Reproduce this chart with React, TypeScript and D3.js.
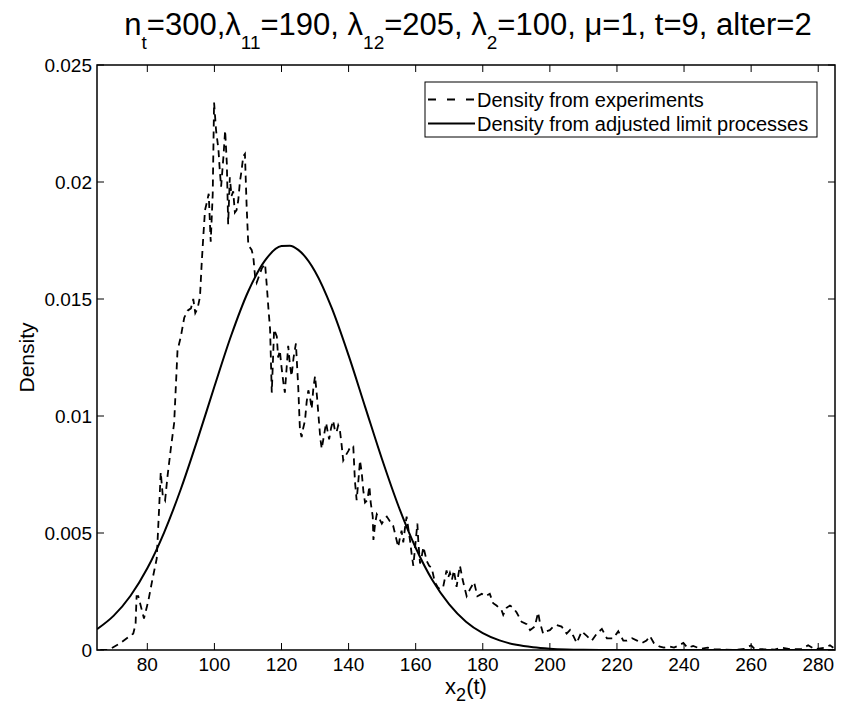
import React from "react";
import * as d3 from "d3";

// ---------- data ----------
const xTicks = [80, 100, 120, 140, 160, 180, 200, 220, 240, 260, 280];
const yTicks = [0, 0.005, 0.01, 0.015, 0.02, 0.025];
const yTickLabels = ["0", "0.005", "0.01", "0.015", "0.02", "0.025"];

// Density from experiments (dashed)
const expX = [
  66, 68, 69, 72, 75.8, 76.5, 76.8, 77.3, 79, 80.3, 81.5, 82.8, 83.5, 84, 84.6, 85.3, 86, 87, 88, 89,
  90, 91, 92, 93, 93.7, 94.3, 95, 95.7, 96.2, 96.7, 97.2, 97.7, 98.3, 98.9, 99.5, 99.9, 100.5, 101.2, 101.6, 102,
  102.7, 103.2, 103.7, 104.1, 104.6, 105.1, 105.6, 106.1, 106.6, 107.1, 107.6, 108.1, 108.6, 109.1, 109.6, 110.1, 110.6, 111.1, 111.6, 112.1,
  112.6, 113.1, 114.1, 115.1, 115.6, 116.1, 116.6, 117.1, 117.8, 118.6, 119.0, 119.5, 120, 120.5, 121, 121.5, 122, 122.5, 123, 123.6,
  124.3, 124.7, 125, 125.5, 126, 126.5, 127, 127.5, 128, 128.5, 129, 129.5, 130, 130.6, 131.2, 131.6, 132, 132.7, 133.3, 133.8,
  134.2, 134.8, 135.4, 135.9, 136.4, 136.9, 137.4, 137.9, 138.4, 139.1, 139.9, 140.6, 141.4, 141.9, 142.4, 142.9, 143.4, 143.9, 144.4, 144.9,
  145.6, 146.2, 146.6, 147.2, 147.4, 147.9, 148.4, 149.2, 149.9, 150.7, 151.4, 152.3, 153.3, 154.3, 154.8, 155.3, 155.8, 156.3, 156.8, 157.3,
  157.8, 158.3, 158.8, 159.3, 159.9, 160.5, 160.8, 161.3, 161.8, 162.3, 162.8, 163.3, 164, 164.8, 165.7, 166.5, 167.2, 168.2, 169.2, 169.7,
  170.2, 170.8, 171.4, 172.2, 172.7, 173.2, 174, 175.2, 176.2, 177.4, 178.4, 179.7, 180.9, 182.1, 183.1, 184.1, 185.6, 186.1, 187.1, 188.1,
  189.1, 190.1, 191.6, 193.1, 194.1, 195.5, 196.5, 197, 198, 199, 200, 201, 202, 203.5, 205, 206, 207, 208, 209.5, 211,
  212.5, 214, 215.5, 217, 218.9, 219.9, 220.4, 221.9, 223, 224.5, 226, 227.5, 228.8, 229.8, 231, 232.8, 234, 235.8, 237, 238.5,
  239.8, 241, 242.7, 245, 247, 249, 252, 255, 258, 260, 261, 264, 267, 269, 272, 275, 277, 279, 282, 283.5,
  284.5,
];
const expY = [
  0, 0, 0.00005, 0.0003, 0.0007, 0.0011, 0.0023, 0.0023, 0.00135, 0.0021, 0.003, 0.0039, 0.006, 0.0076, 0.0066, 0.0064, 0.0074, 0.0086, 0.0097, 0.0128,
  0.0134, 0.0142, 0.0145, 0.0146, 0.015, 0.0144, 0.0146, 0.0151, 0.0165, 0.0177, 0.0188, 0.0191, 0.0195, 0.01745, 0.0195, 0.0234, 0.0222, 0.0214, 0.0205, 0.0198,
  0.0211, 0.0222, 0.0208, 0.0182, 0.0202, 0.0194, 0.0196, 0.0187, 0.0188, 0.0192, 0.02, 0.0205, 0.0211, 0.0212, 0.019, 0.0173, 0.0172, 0.0171, 0.0168, 0.016,
  0.0157, 0.0159, 0.0163, 0.0165, 0.0156, 0.0146, 0.0137, 0.011, 0.0137, 0.0134, 0.0125, 0.0128, 0.0121, 0.0115, 0.011, 0.012, 0.013, 0.0122, 0.0117, 0.0125,
  0.0131, 0.012, 0.0112, 0.0094, 0.0091, 0.0095, 0.0098, 0.0106, 0.0111, 0.0108, 0.0103, 0.0112, 0.0117, 0.0108, 0.0097, 0.009, 0.0086, 0.0092, 0.0097, 0.0093,
  0.009, 0.0095, 0.0098, 0.0094, 0.0093, 0.0096, 0.0094, 0.0088, 0.0081, 0.0083, 0.0085, 0.0087, 0.0087, 0.0072, 0.0064, 0.0072, 0.0081, 0.0076, 0.0068, 0.0063,
  0.0064, 0.007, 0.0063, 0.0057, 0.0047, 0.0054, 0.0058, 0.0056, 0.0054, 0.0056, 0.0057, 0.0055, 0.0053, 0.0047, 0.0044, 0.0048, 0.0051, 0.0046, 0.0052, 0.0057,
  0.0052, 0.0047, 0.0041, 0.0036, 0.0045, 0.0054, 0.0046, 0.0037, 0.004, 0.0044, 0.0041, 0.0038, 0.0036, 0.0035, 0.0029, 0.0027, 0.0026, 0.0027, 0.0034, 0.0031,
  0.0033, 0.003, 0.0034, 0.0027, 0.0032, 0.0036, 0.003, 0.0023, 0.0026, 0.0029, 0.0023, 0.0024, 0.0023, 0.0024, 0.002, 0.0019, 0.0017, 0.0015, 0.0018, 0.0019,
  0.0018, 0.0016, 0.0012, 0.0011, 0.00085, 0.001, 0.0016, 0.0012, 0.0007, 0.0008, 0.00085, 0.001, 0.00107, 0.001, 0.0007, 0.00085, 0.0006, 0.0003, 0.0008, 0.0006,
  0.0004, 0.0007, 0.0009, 0.0005, 0.0005, 0.0007, 0.0008, 0.0004, 0.0004, 0.0005, 0.0004, 0.0003, 0.0004, 0.0006, 0.0003, 0.00014, 0.0001, 0.00015, 0.0001, 0.0002,
  0.0003, 0.0001, 0.00017, 0.00005, 0.0001, 0.00003, 0.00002, 0, 0.00005, 0.0002, 0.00005, 0.00003, 0.00002, 0.0001, 0.00003, 0.00005, 0.0002, 0.00003, 0.0001, 0.0002,
  0.0001,
];

// Density from adjusted limit processes (solid)
const limX = [65, 70, 75, 80, 85, 90, 95, 100, 105, 110, 115, 120, 122.5, 125, 130, 135, 140, 145, 150, 155, 160, 165, 170, 175, 180, 185, 190, 195, 200, 205, 210, 215, 220, 240, 260, 285];
const limY = [
  0.00089, 0.00147, 0.00232, 0.00349, 0.00502, 0.00688, 0.00901, 0.01126, 0.01344, 0.0153, 0.01663, 0.01726, 0.01728, 0.0171, 0.01618, 0.01461, 0.01259, 0.01036, 0.00814,
  0.0061, 0.00437, 0.00298, 0.00195, 0.00121, 0.00072, 0.00041, 0.00022, 0.000115, 0.000057, 0.000026, 0.000011, 0.000004, 0.000001, 0, 0, 0,
];

const legendLabels = ["Density from experiments", "Density from adjusted limit processes"];

// ---------- layout ----------
const W = 841;
const H = 707;
const left = 97;
const right = 835;
const top = 65;
const bottom = 650;
const FONT = "'Liberation Sans', Arial, Helvetica, sans-serif";

export default function App() {
  const x = d3.scaleLinear().domain([65, 285]).range([left, right]);
  const y = d3.scaleLinear().domain([0, 0.025]).range([bottom, top]);

  const expData = expX.map((v, i) => [v, expY[i]] as [number, number]);
  const limData = limX.map((v, i) => [v, limY[i]] as [number, number]);

  const expLine = d3
    .line<[number, number]>()
    .x((d) => x(d[0]))
    .y((d) => y(d[1]));
  const limLine = d3
    .line<[number, number]>()
    .x((d) => x(d[0]))
    .y((d) => y(d[1]))
    .curve(d3.curveMonotoneX);

  const tickLen = 7;
  const sub = { fontSize: 19 };

  return (
    <svg
      width={W}
      height={H}
      style={{ position: "absolute", left: 0, top: 0, background: "#fff" }}
      fontFamily={FONT}
    >
      <rect x={0} y={0} width={W} height={H} fill="#fff" />
      <defs>
        <clipPath id="plotclip">
          <rect x={left} y={top} width={right - left} height={bottom - top} />
        </clipPath>
      </defs>

      {/* Title */}
      <text x={(left + right) / 2 + 2} y={35} textAnchor="middle" fontSize={31} fill="#000">
        <tspan>n</tspan>
        <tspan dy={14} {...sub}>t</tspan>
        <tspan dy={-14}>=300,λ</tspan>
        <tspan dy={14} {...sub}>11</tspan>
        <tspan dy={-14}>=190, λ</tspan>
        <tspan dy={14} {...sub}>12</tspan>
        <tspan dy={-14}>=205, λ</tspan>
        <tspan dy={14} {...sub}>2</tspan>
        <tspan dy={-14}>=100, μ=1, t=9, alter=2</tspan>
      </text>

      {/* Curves */}
      <g clipPath="url(#plotclip)">
        <path
          d={limLine(limData) || ""}
          fill="none"
          stroke="#000"
          strokeWidth={2}
        />
        <path
          d={expLine(expData) || ""}
          fill="none"
          stroke="#000"
          strokeWidth={1.8}
          strokeDasharray="7,5"
        />
      </g>

      {/* Axes box */}
      <rect x={left} y={top} width={right - left} height={bottom - top} fill="none" stroke="#000" strokeWidth={1.5} />

      {/* X ticks */}
      {xTicks.map((t) => (
        <g key={"xt" + t}>
          <line x1={x(t)} x2={x(t)} y1={bottom} y2={bottom - tickLen} stroke="#000" strokeWidth={1} />
          <line x1={x(t)} x2={x(t)} y1={top} y2={top + tickLen} stroke="#000" strokeWidth={1} />
          <text x={x(t)} y={bottom + 21} textAnchor="middle" fontSize={19} fill="#000">
            {t}
          </text>
        </g>
      ))}

      {/* Y ticks */}
      {yTicks.map((t, i) => (
        <g key={"yt" + t}>
          <line x1={left} x2={left + tickLen} y1={y(t)} y2={y(t)} stroke="#000" strokeWidth={1} />
          <line x1={right} x2={right - tickLen} y1={y(t)} y2={y(t)} stroke="#000" strokeWidth={1} />
          <text x={left - 5} y={y(t) + 7} textAnchor="end" fontSize={19} fill="#000">
            {yTickLabels[i]}
          </text>
        </g>
      ))}

      {/* Axis labels */}
      <text x={(left + right) / 2} y={694} textAnchor="middle" fontSize={22} fill="#000">
        <tspan>x</tspan>
        <tspan dy={7} fontSize={18}>2</tspan>
        <tspan dy={-7}>(t)</tspan>
      </text>
      <text
        transform={`translate(34, ${(top + bottom) / 2}) rotate(-90)`}
        textAnchor="middle"
        fontSize={21}
        fill="#000"
      >
        Density
      </text>

      {/* Legend */}
      <g>
        <rect x={425} y={82} width={392} height={55} fill="#fff" stroke="#000" strokeWidth={1} />
        <line x1={428} x2={475} y1={99.5} y2={99.5} stroke="#000" strokeWidth={1.8} strokeDasharray="8,11" />
        <line x1={428} x2={475} y1={123.5} y2={123.5} stroke="#000" strokeWidth={2} />
        <text x={477} y={106.5} fontSize={20} fill="#000">{legendLabels[0]}</text>
        <text x={477} y={130.5} fontSize={20} fill="#000">{legendLabels[1]}</text>
      </g>
    </svg>
  );
}
